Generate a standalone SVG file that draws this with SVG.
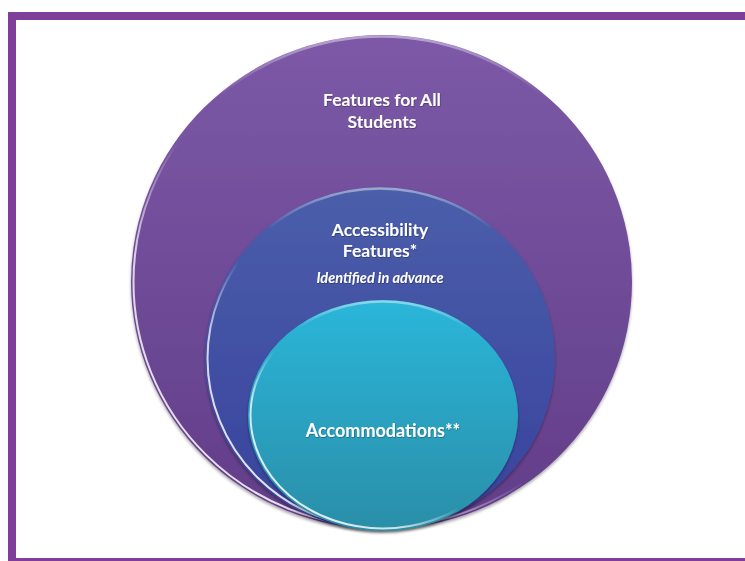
<svg xmlns="http://www.w3.org/2000/svg" width="745" height="561" viewBox="0 0 745 561">
  <style>
    .lbl { font-family: Lato, "Open Sans", "Liberation Sans", sans-serif; font-weight: bold; fill: #ffffff; text-anchor: middle; }
    .sub { font-family: Lato, "Open Sans", "Liberation Sans", sans-serif; font-style: italic; font-weight: bold; fill: #ffffff; text-anchor: middle; }
    .rim { fill: none; stroke: url(#rimGrad); stroke-width: 2; }
    .top { fill: none; stroke: url(#topGrad); stroke-width: 2.5; }
  </style>
  <defs>
    <linearGradient id="gBig" x1="0" y1="0" x2="0" y2="1">
      <stop offset="0" stop-color="#7c59a7"/>
      <stop offset="1" stop-color="#623d88"/>
    </linearGradient>
    <linearGradient id="gMid" x1="0" y1="0" x2="0" y2="1">
      <stop offset="0" stop-color="#4b5eaa"/>
      <stop offset="1" stop-color="#38429d"/>
    </linearGradient>
    <linearGradient id="gSmall" x1="0" y1="0" x2="0" y2="1">
      <stop offset="0" stop-color="#29b6da"/>
      <stop offset="1" stop-color="#2b8ea8"/>
    </linearGradient>
    <linearGradient id="rimGrad" x1="0" y1="1" x2="0.8" y2="0.2">
      <stop offset="0" stop-color="#ffffff" stop-opacity="0.95"/>
      <stop offset="0.35" stop-color="#ffffff" stop-opacity="0.75"/>
      <stop offset="0.55" stop-color="#ffffff" stop-opacity="0"/>
      <stop offset="1" stop-color="#ffffff" stop-opacity="0"/>
    </linearGradient>
    <linearGradient id="topGrad" x1="0" y1="0" x2="0" y2="1">
      <stop offset="0" stop-color="#ffffff" stop-opacity="0.45"/>
      <stop offset="0.12" stop-color="#ffffff" stop-opacity="0"/>
      <stop offset="1" stop-color="#ffffff" stop-opacity="0"/>
    </linearGradient>
    <filter id="shadow" x="-10%" y="-10%" width="120%" height="125%">
      <feDropShadow dx="0" dy="2" stdDeviation="1.6" flood-color="#000000" flood-opacity="0.35"/>
    </filter>
    <filter id="tshadow" x="-10%" y="-30%" width="120%" height="160%">
      <feDropShadow dx="0.6" dy="0.8" stdDeviation="0.6" flood-color="#000000" flood-opacity="0.35"/>
    </filter>
  </defs>

  <rect x="12" y="16" width="745" height="546" fill="#ffffff" stroke="#7f3f98" stroke-width="8"/>

  <g id="node-all-students">
    <ellipse cx="381.5" cy="282" rx="250.5" ry="247" fill="url(#gBig)" filter="url(#shadow)"/>
    <ellipse cx="381.5" cy="282" rx="248" ry="244.5" class="rim"/>
    <ellipse cx="381.5" cy="282" rx="249" ry="245.5" class="top"/>
    <g filter="url(#tshadow)">
      <text class="lbl" x="382" y="106" font-size="17.5">Features for All</text>
      <text class="lbl" x="382" y="128" font-size="17.5">Students</text>
    </g>
  </g>

  <g id="node-accessibility">
    <ellipse cx="380" cy="358.5" rx="175" ry="171.5" fill="url(#gMid)" filter="url(#shadow)"/>
    <ellipse cx="380" cy="358.5" rx="172.5" ry="169" class="rim"/>
    <ellipse cx="380" cy="358.5" rx="173.5" ry="170" class="top"/>
    <g filter="url(#tshadow)">
      <text class="lbl" x="380" y="236" font-size="17.5">Accessibility</text>
      <text class="lbl" x="380" y="257" font-size="17.5">Features*</text>
      <text class="sub" x="380" y="283" font-size="14.5">Identified in advance</text>
    </g>
  </g>

  <g id="node-accommodations">
    <ellipse cx="383" cy="415.5" rx="135" ry="115.5" fill="url(#gSmall)" filter="url(#shadow)"/>
    <ellipse cx="383" cy="415.5" rx="132.5" ry="113" class="rim"/>
    <ellipse cx="383" cy="415.5" rx="133.5" ry="114" class="top"/>
    <g filter="url(#tshadow)">
      <text class="lbl" x="383" y="437" font-size="18">Accommodations**</text>
    </g>
  </g>

  <g id="connectors"/>
</svg>
